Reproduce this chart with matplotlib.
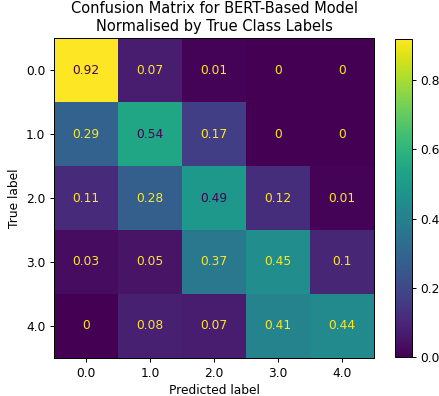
"""BERT モデルの正規化混同行列を描く。"""

import matplotlib

matplotlib.use("Agg")

import matplotlib.pyplot as plt  # noqa: E402
import numpy as np  # noqa: E402

CLASS_LABELS = ["0.0", "1.0", "2.0", "3.0", "4.0"]

# 行 = 正解ラベル、列 = 予測ラベル（行ごとに正規化済み）
ROW_00 = [0.92, 0.07, 0.01, 0, 0]
ROW_10 = [0.29, 0.54, 0.17, 0, 0]
ROW_20 = [0.11, 0.28, 0.49, 0.12, 0.01]
ROW_30 = [0.03, 0.05, 0.37, 0.45, 0.1]
ROW_40 = [0, 0.08, 0.07, 0.41, 0.44]

TITLE = "Confusion Matrix for BERT-Based Model\nNormalised by True Class Labels"

matrix = np.array([ROW_00, ROW_10, ROW_20, ROW_30, ROW_40])

# 参照画像は小さめの dpi で保存されているので、文字サイズをそれに合わせる
DPI = 88
figure = plt.figure(figsize=(439 / DPI, 396 / DPI), dpi=DPI)
axes = figure.add_axes([0.123, 0.096, 0.729, 0.808])
cbar_axes = figure.add_axes([0.900, 0.099, 0.0387, 0.803])

cmap = plt.get_cmap("viridis")
image = axes.imshow(matrix, cmap=cmap, interpolation="nearest")

# sklearn と同じく、中間値を境に文字色を反転させる
threshold = (matrix.max() + matrix.min()) / 2.0
dark, light = cmap(0.0), cmap(1.0)
for i in range(matrix.shape[0]):
    for j in range(matrix.shape[1]):
        value = matrix[i, j]
        axes.text(
            j, i, f"{value:.2g}",
            ha="center", va="center",
            color=dark if value >= threshold else light,
        )

figure.colorbar(image, cax=cbar_axes)

axes.set_xticks(range(len(CLASS_LABELS)), CLASS_LABELS)
axes.set_yticks(range(len(CLASS_LABELS)), CLASS_LABELS)
axes.set_xlabel("Predicted label")
axes.set_ylabel("True label")
axes.set_title(TITLE)

figure.savefig("out.png", dpi=DPI)
plt.close(figure)
